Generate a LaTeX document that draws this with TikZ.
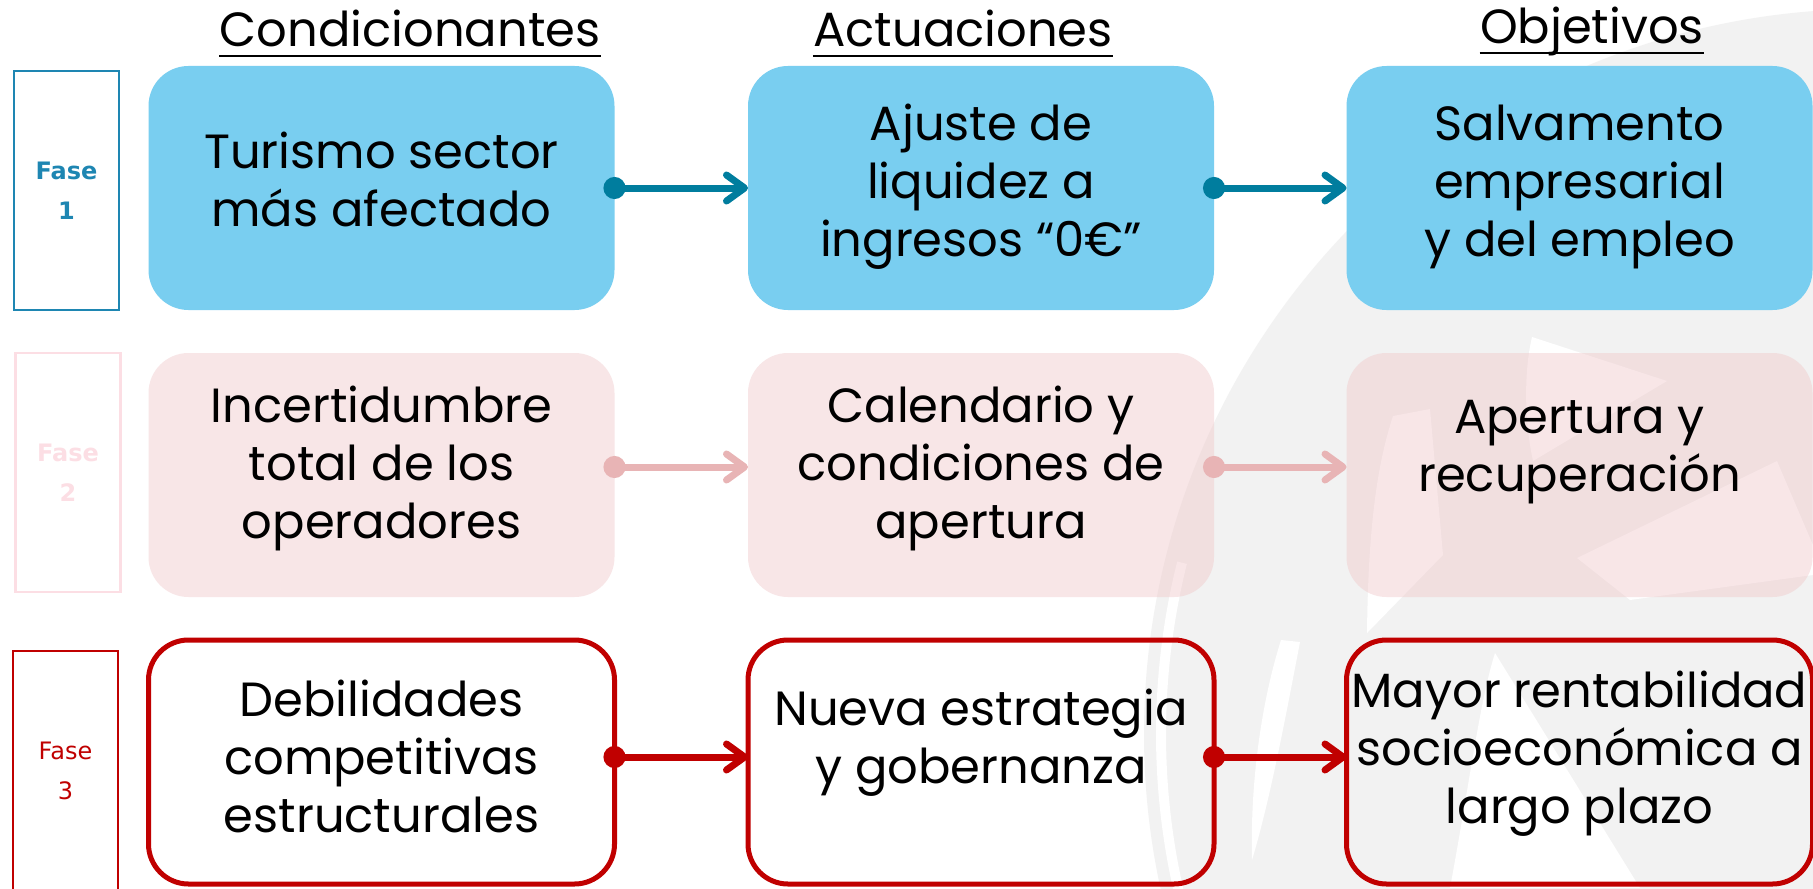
\documentclass[tikz,border=0pt]{standalone}
\usepackage{fontspec}
\setmainfont{Poppins}
\newfontfamily\fasefont{DejaVu Sans}
\usetikzlibrary{arrows.meta}
\definecolor{faseBlue}{RGB}{30,134,178}
\definecolor{boxBlue}{RGB}{121,206,240}
\definecolor{arrowBlue}{RGB}{0,125,158}
\definecolor{faseRed}{RGB}{192,0,0}
\definecolor{boxPink}{RGB}{240,200,202}
\definecolor{arrowPink}{RGB}{232,180,181}
\definecolor{fasePink}{RGB}{252,222,228}
\definecolor{markGray}{RGB}{242,242,242}

\begin{document}
\begin{tikzpicture}[x=0.5pt, y=-0.5pt,
    cellbox/.style={rounded corners=20pt, minimum width=233pt, minimum height=122pt, outer sep=0pt},
    bluebox/.style={cellbox, fill=boxBlue},
    pinkbox/.style={cellbox, fill=boxPink, fill opacity=0.45},
    redbox/.style={cellbox, draw=faseRed, line width=2.5pt},
    boxtext/.style={align=center, font=\fontsize{24}{29}\selectfont},
    header/.style={anchor=base, inner sep=0pt, font=\fontsize{24}{29}\selectfont},
    underline/.style={line width=1.2pt},
    fasebox/.style={draw, line width=1.2pt, minimum width=52.5pt, minimum height=119.5pt, align=center},
    link/.style={line width=3.5pt, {Circle[length=11pt]}-{Straight Barb[length=9pt,width=13pt,round]}, shorten <=-5.5pt}]
  \useasboundingbox (0,0) rectangle (1813,888);
  \clip (0,0) rectangle (1813,888);
  \fill[white] (0,0) rectangle (1813,888);

  % Watermark
  \fill[markGray] (1869,734) circle (725);
  \draw[white, line width=5pt] (1869,734) ++(167:708) arc[start angle=167, end angle=194, radius=708];
  \fill[white] (1532,337) -- (1667,381) -- (1533,461) .. controls (1524,420) and (1524,370) .. cycle;
  \fill[white] (1393,416) -- (1430,409) -- (1443,555) -- (1367,633) .. controls (1368,540) and (1375,470) .. cycle;
  \fill[white] (1577,558) -- (1777,461) -- (1813,545) -- (1813,575) -- (1630,600) -- cycle;
  \fill[white] (1495,653) -- (1640,888) -- (1450,888) .. controls (1470,780) and (1480,700) .. cycle;
  \fill[white] (1281,640) -- (1300,642) .. controls (1285,720) and (1270,800) .. (1252,860) .. controls (1250,780) and (1262,700) .. cycle;

  % Headers
  \node[header] (hcond) at (410,47) {Condicionantes};
  \node[header] (hact) at (963,47) {Actuaciones};
  \node[header] (hobj) at (1592,44) {Objetivos};
  \draw[underline] ([yshift=-4.5pt]hcond.base west) -- ([yshift=-4.5pt]hcond.base east);
  \draw[underline] ([yshift=-4.5pt]hact.base west) -- ([yshift=-4.5pt]hact.base east);
  \draw[underline] ([yshift=-4.5pt]hobj.base west) -- ([yshift=-4.5pt]hobj.base east);

  % Phase labels
  \node[fasebox, draw=faseBlue, text=faseBlue, font=\fasefont\bfseries\fontsize{12}{20}\selectfont] (f1) at (66.5,190.5) {Fase\\1};
  \node[fasebox, draw=fasePink, text=fasePink, font=\fasefont\bfseries\fontsize{12}{20}\selectfont] (f2) at (68,472.5) {Fase\\2};
  \node[fasebox, draw=faseRed, text=faseRed, font=\fasefont\fontsize{12}{20}\selectfont] (f3) at (65.5,770.5) {Fase\\3};

  % Phase 1
  \node[bluebox] (tur) at (381.5,188) {};
  \node[bluebox] (aju) at (981,188) {};
  \node[bluebox] (sal) at (1579.5,188) {};
  \node[boxtext] (turt) at ([yshift=4.5pt]tur) {Turismo sector\\más afectado};
  \node[boxtext] (ajut) at ([yshift=0.5pt]aju) {Ajuste de\\liquidez a\\ingresos “0€”};
  \node[boxtext] (salt) at ([yshift=0.5pt]sal) {Salvamento\\empresarial\\y del empleo};
  \draw[link, arrowBlue] (tur.east) -- (aju.west);
  \draw[link, arrowBlue] (aju.east) -- (sal.west);

  % Phase 2
  \node[pinkbox] (inc) at (381.5,475) {};
  \node[pinkbox] (cal) at (981,475) {};
  \node[pinkbox] (ape) at (1579.5,475) {};
  \node[boxtext] (inct) at ([yshift=3.5pt]inc) {Incertidumbre\\total de los\\operadores};
  \node[boxtext] (calt) at ([yshift=3.5pt]cal) {Calendario y\\condiciones de\\apertura};
  \node[boxtext] (apet) at ([yshift=11.5pt]ape) {Apertura y\\recuperación};
  \draw[link, arrowPink] ([yshift=4pt]inc.east) -- ([yshift=4pt]cal.west);
  \draw[link, arrowPink] ([yshift=4pt]cal.east) -- ([yshift=4pt]ape.west);

  % Phase 3
  \node[redbox] (deb) at (381.5,762) {};
  \node[redbox] (nue) at (981,762) {};
  \node[redbox] (may) at (1579.5,762) {};
  \node[boxtext] (debt) at ([yshift=3pt]deb) {Debilidades\\competitivas\\estructurales};
  \node[boxtext] (nuet) at ([yshift=9.5pt]nue) {Nueva estrategia\\y gobernanza};
  \node[boxtext] (mayt) at ([yshift=4pt]may) {Mayor rentabilidad\\socioeconómica a\\largo plazo};
  \draw[link, faseRed] ([yshift=2.5pt]deb.east) -- ([yshift=2.5pt]nue.west);
  \draw[link, faseRed] ([yshift=2.5pt]nue.east) -- ([yshift=2.5pt]may.west);
\end{tikzpicture}
\end{document}
